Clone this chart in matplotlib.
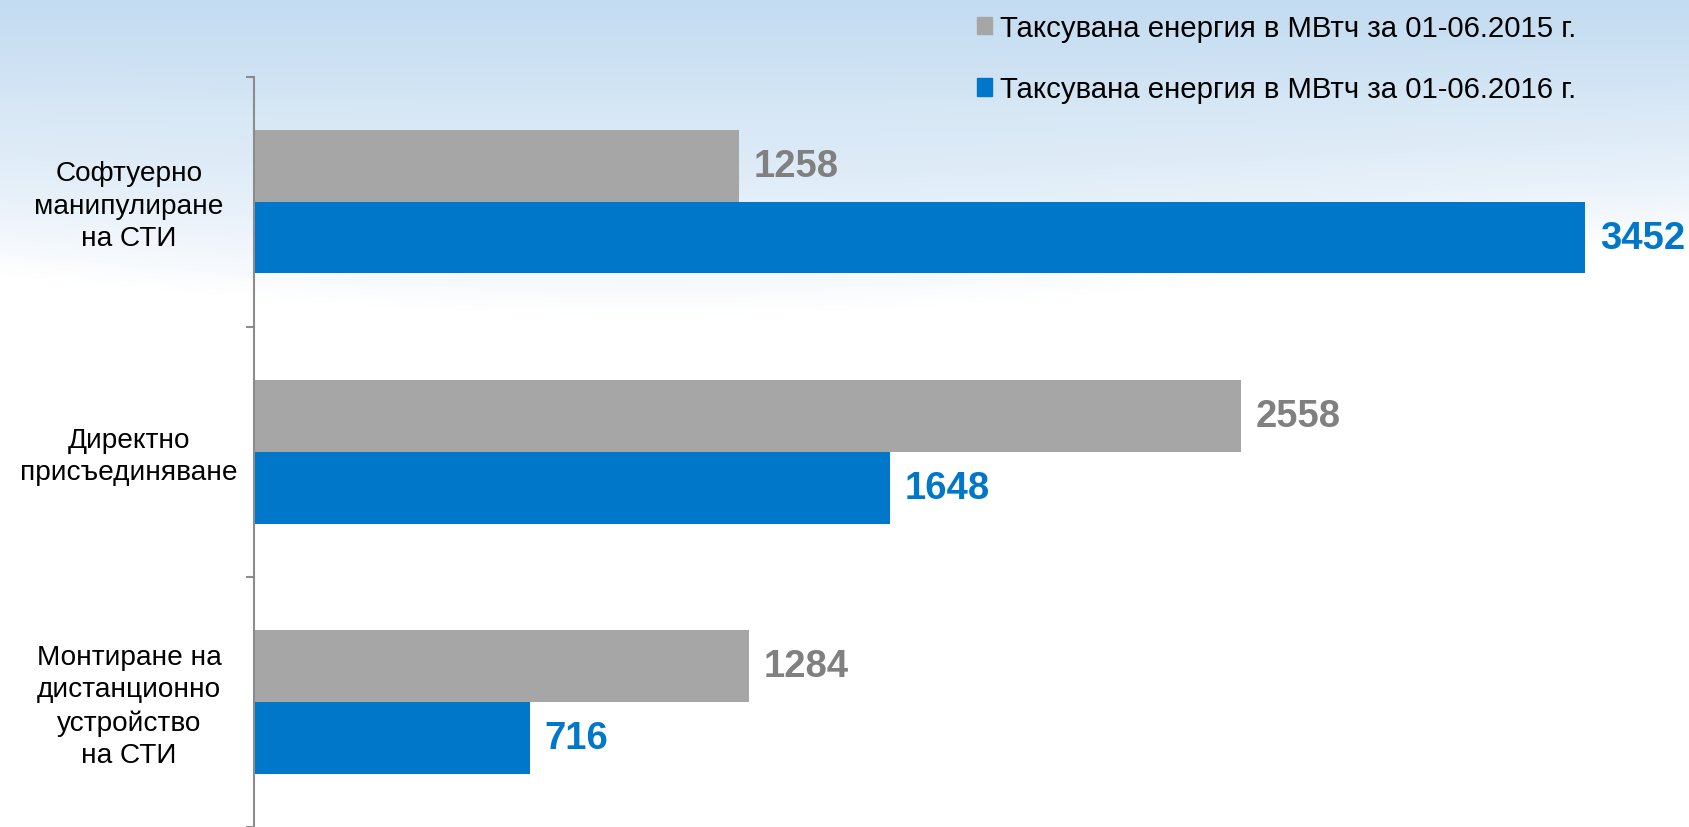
import numpy as np
import matplotlib
matplotlib.use("Agg")
import matplotlib.pyplot as plt
from matplotlib.patches import Patch
import matplotlib.transforms as mtransforms

plt.rcParams['font.family'] = ['Liberation Sans', 'DejaVu Sans']

categories = ["Софтуерно\nманипулиране\nна СТИ",
              "Директно\nприсъединяване",
              "Монтиране на\nдистанционно\nустройство\nна СТИ"]
values_2015 = [1258, 2558, 1284]
values_2016 = [3452, 1648, 716]
series_names = ["Таксувана енергия в МВтч за 01-06.2015 г.",
                "Таксувана енергия в МВтч за 01-06.2016 г."]

GRAY = "#a6a6a6"
BLUE = "#0077c8"
GRAY_TXT = "#808080"
BLUE_TXT = "#0077c8"

W, H = 1690, 828
fig = plt.figure(figsize=(W / 100, H / 100), dpi=100)

# background: soft blue wave gradient
bg = fig.add_axes([0, 0, 1, 1], zorder=-10)
xx, yy = np.meshgrid(np.arange(W), np.arange(H))
boundary = 275 + 40 * np.sin(np.pi * xx / W * 1.3)
f = np.clip(1 - (yy / boundary) ** 2.2, 0, 1) * (0.75 + 0.25 * np.clip(1 - yy / 120, 0, 1))
top = np.array([196, 220, 241]) / 255.0
img = (1 - f[..., None]) * 1.0 + f[..., None] * top
bg.imshow(img, aspect='auto', extent=[0, 1, 0, 1], origin='upper')
bg.axis('off')

ax = fig.add_axes([254 / W, 0, 1 - 254 / W, 1 - 77.6 / H])
ax.patch.set_alpha(0)

y = np.arange(len(categories))
h = 0.287
b1 = ax.barh(y - h / 2, values_2015, height=h, color=GRAY, label=series_names[0])
b2 = ax.barh(y + h / 2, values_2016, height=h, color=BLUE, label=series_names[1])

ax.set_ylim(len(categories) - 0.5, -0.5)
ax.set_xlim(0, 3723)

for bars, vals, col in [(b1, values_2015, GRAY_TXT), (b2, values_2016, BLUE_TXT)]:
    for bar, v in zip(bars, vals):
        ax.annotate(f"{v}", (bar.get_width(), bar.get_y() + bar.get_height() / 2),
                    xytext=(10.5, 0), textcoords='offset points', ha='left', va='center',
                    fontsize=27.5, fontweight='bold', color=col, annotation_clip=False)

for s in ['top', 'right', 'bottom']:
    ax.spines[s].set_visible(False)
ax.spines['left'].set_color('#8c8c8c')
ax.spines['left'].set_linewidth(1.5)
ax.set_xticks([])
ax.set_yticks(np.arange(-0.5, len(categories), 1.0))
ax.set_yticklabels([])
ax.tick_params(axis='y', length=6, width=1.5, color='#8c8c8c')

trans = mtransforms.blended_transform_factory(fig.transFigure, ax.transData)
label_offset = mtransforms.offset_copy(trans, fig=fig, x=0, y=-4, units='dots')
for yi, lab in zip(y, categories):
    ax.text(129 / W, yi, lab, transform=label_offset, ha='center', va='center',
            multialignment='center', fontsize=20.2, color='black', linespacing=1.33)

handles = [Patch(color=GRAY, label=series_names[0]), Patch(color=BLUE, label=series_names[1])]
fig.legend(handles=handles, loc='upper left', bbox_to_anchor=(971 / W, 1 - 9 / H),
           frameon=False, fontsize=21.2, handlelength=0.52, handleheight=0.52,
           handletextpad=0.28, labelspacing=1.14, borderaxespad=0, borderpad=0.2)

fig.savefig("out.png", dpi=100)
